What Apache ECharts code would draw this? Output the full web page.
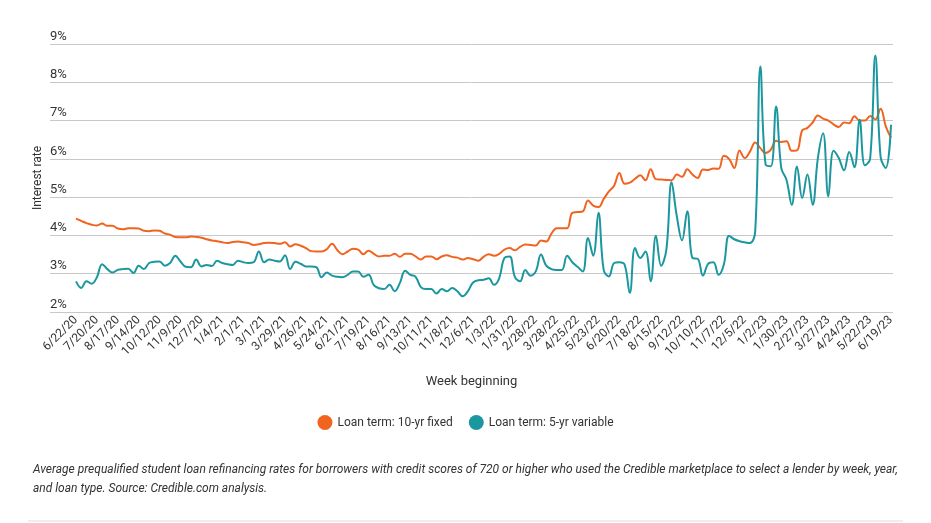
<!DOCTYPE html>
<html>
<head>
<meta charset="utf-8">
<script src="https://cdn.jsdelivr.net/npm/echarts@6/dist/echarts.min.js"></script>
<style>
html,body{margin:0;padding:0;background:#fff;}
#chart{width:931px;height:523px;}
</style>
</head>
<body>
<div id="chart"></div>
<script>
// Tick labels, one every 4 weeks starting at week index 0
const tickLabels = ["6/22/20","7/20/20","8/17/20","9/14/20","10/12/20","11/9/20","12/7/20","1/4/21","2/1/21","3/1/21","3/29/21","4/26/21","5/24/21","6/21/21","7/19/21","8/16/21","9/13/21","10/11/21","11/8/21","12/6/21","1/3/22","1/31/22","2/28/22","3/28/22","4/25/22","5/23/22","6/20/22","7/18/22","8/15/22","9/12/22","10/10/22","11/7/22","12/5/22","1/2/23","1/30/23","2/27/23","3/27/23","4/24/23","5/22/23","6/19/23"];

const fixed10 = [4.44,4.38,4.32,4.28,4.26,4.31,4.25,4.25,4.18,4.16,
4.19,4.19,4.18,4.12,4.11,4.13,4.12,4.05,4.02,3.96,
3.95,3.95,3.97,3.96,3.94,3.90,3.87,3.85,3.82,3.80,
3.83,3.84,3.82,3.80,3.75,3.77,3.80,3.81,3.80,3.78,
3.82,3.71,3.77,3.73,3.67,3.59,3.58,3.58,3.64,3.78,
3.62,3.51,3.58,3.65,3.63,3.51,3.60,3.52,3.45,3.47,
3.47,3.52,3.44,3.52,3.52,3.45,3.37,3.45,3.45,3.38,
3.45,3.48,3.44,3.42,3.37,3.41,3.38,3.34,3.44,3.51,
3.47,3.52,3.63,3.67,3.61,3.70,3.76,3.75,3.74,3.87,
3.84,4.05,4.19,4.19,4.19,4.59,4.61,4.63,4.91,4.78,
4.74,4.95,5.15,5.30,5.63,5.35,5.38,5.48,5.57,5.44,
5.73,5.47,5.46,5.45,5.44,5.59,5.53,5.73,5.59,5.50,
5.72,5.71,5.75,5.74,6.08,6.00,5.76,6.22,6.02,6.19,
6.43,6.28,6.15,6.24,6.47,6.44,6.46,6.21,6.22,6.74,
6.81,6.95,7.13,7.05,7.00,6.90,6.83,6.95,6.93,7.11,
7.00,7.00,7.12,7.03,7.31,6.85,6.55];

const variable5 = [2.80,2.63,2.80,2.74,2.91,3.25,3.12,3.03,3.10,3.12,
3.13,3.02,3.21,3.12,3.28,3.31,3.32,3.21,3.28,3.47,
3.32,3.18,3.17,3.37,3.19,3.23,3.20,3.34,3.28,3.25,
3.23,3.34,3.30,3.28,3.30,3.58,3.30,3.37,3.34,3.32,
3.48,3.12,3.31,3.26,3.19,3.19,3.17,2.91,3.03,2.95,
2.92,2.91,2.97,3.06,3.06,2.92,2.97,2.70,2.62,2.60,
2.71,2.54,2.76,3.08,2.97,2.92,2.65,2.60,2.60,2.48,
2.60,2.54,2.63,2.54,2.41,2.54,2.77,2.83,2.84,2.88,
2.71,2.88,3.41,3.45,2.92,2.80,3.10,2.95,3.06,3.50,
3.21,3.12,3.10,3.10,3.47,3.30,3.18,3.06,3.93,3.47,
4.59,3.10,2.93,3.28,3.30,3.24,2.50,3.67,3.41,3.58,
2.80,3.99,3.21,3.63,5.39,4.50,3.87,4.63,3.41,3.39,
2.95,3.26,3.30,2.97,3.24,3.99,3.90,3.85,3.82,3.80,
4.10,8.41,5.85,5.81,7.37,5.76,5.45,4.80,5.80,4.98,
5.59,4.80,6.02,6.67,5.02,6.21,6.02,5.70,6.18,5.78,
7.02,5.83,6.00,8.70,6.06,5.76,6.89];

const seriesNames = ["Loan term: 10-yr fixed","Loan term: 5-yr variable"];
const colors = ["#F0641F","#1B979F"];

const tickPositions = tickLabels.map((_, i) => i * 4);
const toPairs = arr => arr.map((v, i) => [i, v]);

const chart = echarts.init(document.getElementById('chart'), null, {renderer:'canvas'});
const FONT = 'Roboto, "Noto Sans", sans-serif';
chart.setOption({
  animation:false,
  textStyle:{fontFamily:FONT},
  title:{
    text:"Average prequalified student loan refinancing rates for borrowers with credit scores of 720 or higher who used the Credible marketplace to select a lender by week, year,\nand loan type. Source: Credible.com analysis.",
    left:28, top:455,
    textStyle:{fontFamily:FONT, fontSize:12, fontStyle:'italic', fontWeight:'normal', color:'#333', lineHeight:19}
  },
  legend:{
    top:410, left:'center',
    icon:'circle', itemWidth:15, itemHeight:15, itemGap:16, itemStyle:{borderWidth:0},
    textStyle:{fontFamily:FONT, fontSize:12, color:'#333'},
    data:seriesNames
  },
  grid:{left:50, right:38, top:44, height:268, containLabel:false},
  xAxis:{
    type:'value', min:-4.98, max:156.38,
    name:'Week beginning', nameLocation:'middle', nameGap:63,
    nameTextStyle:{fontFamily:FONT, fontSize:13, color:'#333'},
    axisLine:{show:false}, axisTick:{show:false}, splitLine:{show:false},
    axisLabel:{
      customValues:tickPositions, rotate:45, margin:6,
      fontFamily:FONT, fontSize:12, color:'#333',
      formatter: v => tickLabels[Math.round(v/4)] || ''
    }
  },
  yAxis:{
    type:'value', min:2, max:9, interval:1,
    name:'Interest rate', nameLocation:'middle', nameGap:6, nameMoveOverlap:false,
    nameTextStyle:{fontFamily:FONT, fontSize:12, color:'#333'},
    axisLine:{show:false}, axisTick:{show:false},
    splitLine:{lineStyle:{color:'#c8c8c8', width:1}},
    axisLabel:{inside:true, margin:0, align:'left', verticalAlign:'bottom', lineHeight:15,
      fontFamily:FONT, fontSize:13, color:'#333', formatter:'{value}%'}
  },
  graphic:[{type:'line', shape:{x1:28,y1:521,x2:903,y2:521}, style:{stroke:'#ddd', lineWidth:1}}],
  series:[
    {name:seriesNames[0], type:'line', data:toPairs(fixed10), smooth:0.4, symbol:'none',
     lineStyle:{color:colors[0], width:2}, itemStyle:{color:colors[0]}},
    {name:seriesNames[1], type:'line', data:toPairs(variable5), smooth:0.4, symbol:'none',
     lineStyle:{color:colors[1], width:2}, itemStyle:{color:colors[1]}}
  ]
});
</script>
</body>
</html>
